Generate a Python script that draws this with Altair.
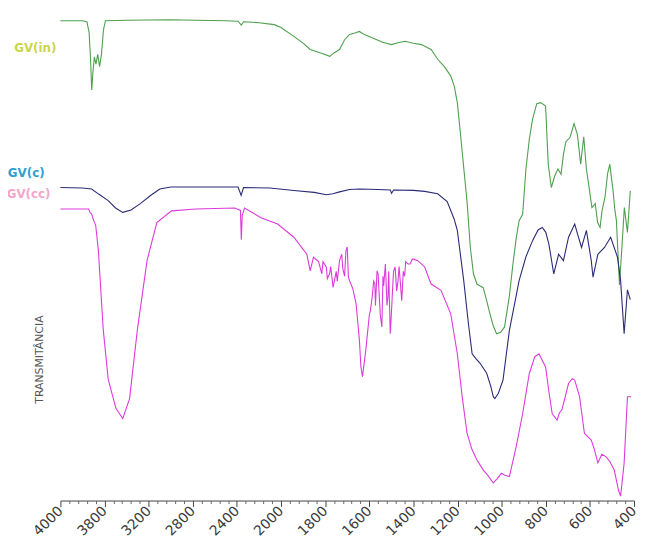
import altair as alt
import pandas as pd

# ---------------- data ----------------
series_names = ["GV(in)", "GV(c)", "GV(cc)"]
line_colors = ["#4e9f4e", "#2b2b78", "#dd3adc"]
label_colors = ["#c9d64a", "#2f9fd0", "#f2a6c8"]

green_w = [4000, 3800, 3760, 3740, 3728, 3716, 3705, 3692, 3678, 3662, 3645, 3628, 3610, 3592,
           3400, 3000, 2773, 2500, 2390, 2360, 2340, 2200, 2062, 2000, 1942, 1900, 1868, 1820,
           1779, 1760, 1735, 1712, 1690, 1665, 1645, 1620, 1587, 1540, 1499, 1470, 1438, 1400,
           1364, 1320, 1290, 1260, 1231, 1215, 1201, 1186, 1157, 1142, 1128, 1112, 1097, 1084,
           1068, 1053, 1038, 1023, 1005, 987, 965, 949, 935, 921, 905, 890, 875, 860, 841, 823,
           801, 789, 775, 760, 745, 731, 720, 709, 690, 672, 657, 642, 628, 616, 606, 591, 576,
           565, 554, 545, 532, 520, 510, 495, 488, 480, 466, 455, 444, 430, 417]
green_v = [98.4, 98.4, 98.2, 96.0, 91.0, 84.2, 88.0, 91.0, 89.5, 91.5, 89.0, 91.5, 96.5, 98.4,
           98.5, 98.6, 98.5, 98.4, 98.3, 97.5, 98.2, 98.0, 97.6, 97.0, 95.2, 93.8, 92.5, 91.8,
           91.1, 91.8, 92.5, 94.5, 95.6, 95.9, 96.2, 95.5, 94.9, 94.0, 93.5, 93.9, 94.2, 93.8,
           93.5, 92.5, 90.5, 89.0, 87.1, 85.0, 81.6, 74.8, 61.3, 51.9, 46.5, 44.4, 44.0, 43.7,
           41.0, 38.3, 35.8, 34.2, 34.5, 35.6, 42.0, 48.5, 53.5, 57.4, 58.7, 68.0, 74.0, 78.2,
           81.4, 81.6, 80.9, 69.0, 64.2, 66.5, 68.0, 66.9, 71.0, 73.6, 74.5, 77.3, 75.1, 69.0,
           74.6, 68.0, 64.9, 60.1, 60.9, 57.0, 56.0, 59.5, 62.1, 67.0, 69.0, 63.5, 60.0, 57.4,
           44.2, 52.0, 60.1, 55.0, 63.5]

blue_w = [4000, 3800, 3717, 3650, 3567, 3500, 3435, 3360, 3276, 3180, 3099, 3000, 2773, 2500,
          2390, 2362, 2340, 2100, 1942, 1850, 1795, 1765, 1735, 1690, 1645, 1560, 1505, 1499,
          1490, 1400, 1349, 1290, 1247, 1216, 1201, 1172, 1150, 1134, 1115, 1097, 1068, 1050,
          1038, 1031, 1015, 994, 965, 921, 890, 860, 835, 816, 800, 786, 764, 742, 720, 697,
          669, 655, 638, 616, 594, 586, 564, 534, 506, 475, 461, 445, 430, 417]
blue_v = [64.2, 64.1, 63.9, 62.8, 61.5, 60.0, 59.1, 59.6, 60.9, 62.6, 63.9, 64.3, 64.3, 64.3,
          64.3, 62.6, 64.2, 64.1, 63.6, 63.2, 62.7, 62.9, 63.3, 63.8, 63.9, 63.8, 63.7, 63.0,
          63.7, 63.6, 63.4, 62.9, 61.3, 57.8, 55.4, 45.1, 36.0, 30.1, 29.0, 28.1, 26.1, 23.5,
          21.3, 20.9, 22.0, 24.7, 34.9, 45.1, 50.0, 53.3, 55.5, 56.0, 55.0, 52.6, 46.5, 50.5,
          49.2, 54.0, 56.7, 54.5, 51.9, 55.4, 49.2, 45.8, 50.5, 51.9, 54.0, 49.9, 45.1, 34.2,
          43.2, 41.2]

pink_w = [4000, 3800, 3744, 3730, 3717, 3700, 3680, 3656, 3612, 3567, 3497, 3435, 3373, 3302,
          3214, 3126, 2993, 2773, 2419, 2388, 2368, 2360, 2352, 2331, 2181, 2031, 1942, 1900,
          1883, 1868, 1853, 1830, 1815, 1810, 1795, 1790, 1780, 1775, 1764, 1750, 1745, 1735,
          1725, 1720, 1712, 1706, 1700, 1695, 1690, 1675, 1660, 1645, 1638, 1631, 1616, 1600,
          1595, 1587, 1580, 1575, 1572, 1565, 1560, 1555, 1550, 1543, 1538, 1535, 1527, 1520,
          1515, 1512, 1505, 1498, 1495, 1490, 1483, 1476, 1470, 1465, 1453, 1446, 1440, 1435,
          1424, 1415, 1405, 1400, 1380, 1349, 1320, 1275, 1231, 1201, 1179,
          1157, 1135, 1112, 1084, 1060, 1038, 1020, 1001, 985, 965, 934, 905, 875, 850, 831,
          801, 785, 771, 749, 738, 727, 697, 680, 669, 647, 625, 608, 594, 580, 564, 546, 528,
          510, 490, 470, 461, 445, 430, 413]
pink_v = [59.8, 59.8, 59.8, 59.0, 58.8, 57.5, 56.4, 51.3, 35.1, 24.9, 18.9, 16.8, 20.9, 35.1,
          49.3, 57.0, 59.4, 59.8, 60.0, 59.7, 59.5, 53.5, 58.5, 60.0, 58.0, 56.7, 54.0, 51.5,
          50.5, 47.1, 49.9, 49.0, 46.5, 49.0, 47.9, 45.5, 46.5, 48.0, 43.7, 47.0, 45.0, 49.2,
          50.5, 47.5, 46.0, 51.2, 52.0, 46.0, 45.1, 43.5, 40.4,
          33.0, 27.4, 25.4, 30.8, 38.0,
          39.0, 41.7, 45.0, 44.5, 40.0, 47.1, 46.5, 42.0, 38.0, 35.6, 46.0, 44.0, 48.5, 40.0,
          42.0, 47.0, 34.2, 40.0, 43.0, 47.0, 47.9, 43.0, 45.0, 48.0, 41.0, 47.0, 46.0, 49.0,
          48.5, 48.5, 49.5, 49.5, 49.2, 47.9, 44.4, 43.1, 38.3, 30.1, 21.3,
          13.8, 10.5, 8.3, 6.3, 5.0, 3.6, 4.5, 5.6, 5.2, 4.9, 11.1, 17.8, 26.0, 29.5, 30.1,
          27.4, 22.0, 17.8, 16.5, 18.0, 18.6, 24.0, 25.0, 24.7, 21.3, 13.8, 13.0, 12.4, 10.5,
          7.7, 9.5, 9.0, 8.0, 6.3, 2.0, 0.9, 7.7, 21.3, 21.3]

# label positions (y in data units, anchored at the left end of the axis)
label_v = [92.9, 67.1, 62.9]
label_dx = [-4, -16, -10]

tick_values = [4000, 3600, 3200, 2800, 2400, 2000, 1800, 1600, 1400, 1200, 1000, 800, 600, 400]
tick_labels = ["4000", "3800", "3200", "2800", "2400", "2000", "1800", "1600", "1400", "1200",
               "1000", "800", "600", "400"]

# ---------------- build tables ----------------
rows = []
for name, ws, vs in zip(series_names, [green_w, blue_w, pink_w], [green_v, blue_v, pink_v]):
    for i, (w, v) in enumerate(zip(ws, vs)):
        rows.append({"serie": name, "w": w, "v": v, "i": i})
df = pd.DataFrame(rows)

minor_values = []
for a, b in zip(tick_values[:-1], tick_values[1:]):
    for k in range(1, 5):
        minor_values.append(a + (b - a) * k / 5)

W, H = 580, 493
xs = alt.Scale(domain=[4000, 2000, 400], range=[0, W * 5 / 13, W], nice=False, zero=False)
ys = alt.Scale(domain=[0, 100], nice=False, zero=False)

label_expr = ("[" + ",".join("'" + t + "'" for t in tick_labels) + "][indexof(["
              + ",".join(str(v) for v in tick_values) + "], datum.value)]")

major_axis = alt.Axis(values=tick_values, labelExpr=label_expr, title=None, grid=False,
                      labelAngle=-45, labelAlign="right", labelBaseline="middle",
                      labelPadding=2, labelFontSize=14, labelFont="DejaVu Sans",
                      labelColor="#3a3a3a", tickSize=6, tickColor="#444", domainColor="#444",
                      orient="bottom", labelOverlap=False)
minor_axis = alt.Axis(values=minor_values, labels=False, title=None, grid=False, domain=False,
                      tickSize=3, tickColor="#666", orient="bottom")

y_axis = alt.Axis(domain=False, ticks=False, labels=False, grid=False, title="TRANSMITÂNCIA",
                  titleFontSize=11, titleFontWeight="normal", titleColor="#555",
                  titleFont="DejaVu Sans", titleX=-16, titleY=350, titleAngle=270)

color_scale = alt.Scale(domain=series_names, range=line_colors)

lines = alt.Chart(df).mark_line(strokeWidth=1.1, interpolate="linear").encode(
    x=alt.X("w:Q", scale=xs, axis=major_axis),
    y=alt.Y("v:Q", scale=ys, axis=y_axis),
    color=alt.Color("serie:N", scale=color_scale, legend=None),
    order="i:Q",
)

minor = alt.Chart(df).mark_line(opacity=0).encode(
    x=alt.X("w:Q", scale=xs, axis=minor_axis),
    y=alt.Y("v:Q", scale=ys),
    detail="serie:N",
)

layers = [lines, minor]
for name, col, v, dx in zip(series_names, label_colors, label_v, label_dx):
    ldf = pd.DataFrame({"serie": [name], "w": [4000], "v": [v]})
    layers.append(
        alt.Chart(ldf).mark_text(fontWeight="bold", fontSize=12, font="DejaVu Sans",
                                 align="right", baseline="middle", dx=dx, color=col).encode(
            x=alt.X("w:Q", scale=xs, axis=None),
            y=alt.Y("v:Q", scale=ys),
            text="serie:N",
        )
    )

chart = alt.layer(*layers).resolve_axis(x="independent").properties(
    width=W, height=H,
    autosize=alt.AutoSizeParams(type="none"),
    padding={"left": 53, "top": 2, "right": 5, "bottom": 44},
    background="white",
).configure_view(stroke=None)

chart.save("out.html", embed_options={"renderer": "svg", "actions": False})
